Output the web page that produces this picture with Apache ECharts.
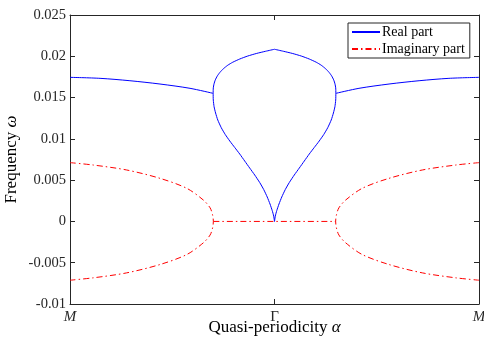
<!DOCTYPE html>
<html>
<head>
<meta charset="utf-8">
<script src="https://cdn.jsdelivr.net/npm/echarts@6/dist/echarts.min.js"></script>
<style>html,body{margin:0;padding:0;background:#fff}#c{width:484px;height:345px}</style>
</head>
<body>
<div id="c"></div>
<script>
// Tick labels
var xTickLabels = ['M', 'Γ', 'M'];
var yTickLabels = ['-0.01', '-0.005', '0', '0.005', '0.01', '0.015', '0.02', '0.025'];

// Real part, left outer segment (alpha from M to branch point)
var realLeft = [[0, 0.01745], [0.147, 0.01733], [0.293, 0.01704], [0.44, 0.01664], [0.587, 0.01612], [0.700, 0.01551]];
// Real part, right outer segment
var realRight = [[2, 0.01745], [1.853, 0.01733], [1.707, 0.01704], [1.56, 0.01664], [1.413, 0.01612], [1.300, 0.01551]];
// Real part, left lens half: from cusp at Γ (lower branch) through branch point to peak at Γ (upper branch)
var lensLeft = [[1.0, 0.0], [0.999, 0.00017], [0.9961, 0.00065], [0.9888, 0.00132], [0.978, 0.00211], [0.9644, 0.00296],
  [0.9473, 0.00386], [0.9277, 0.00471], [0.9033, 0.00562], [0.8789, 0.00646], [0.8545, 0.00731], [0.8301, 0.00816],
  [0.8057, 0.00895], [0.7813, 0.00974], [0.7593, 0.01052], [0.7397, 0.01135], [0.7227, 0.01228], [0.7119, 0.01313],
  [0.7046, 0.01389], [0.7007, 0.01470], [0.700, 0.01551], [0.7007, 0.01616], [0.7041, 0.01664], [0.7104, 0.01713],
  [0.7202, 0.01761], [0.7324, 0.01803], [0.7495, 0.01848], [0.7715, 0.01892], [0.7959, 0.01928], [0.8301, 0.01967],
  [0.8691, 0.02003], [0.9131, 0.02035], [0.957, 0.02061], [1.0, 0.02085]];
// Real part, right lens half
var lensRight = [[1.0, 0.0], [1.001, 0.00017], [1.0039, 0.00065], [1.0112, 0.00132], [1.022, 0.00211], [1.0356, 0.00296],
  [1.0527, 0.00386], [1.0723, 0.00471], [1.0967, 0.00562], [1.1211, 0.00646], [1.1455, 0.00731], [1.1699, 0.00816],
  [1.1943, 0.00895], [1.2187, 0.00974], [1.2407, 0.01052], [1.2603, 0.01135], [1.2773, 0.01228], [1.2881, 0.01313],
  [1.2954, 0.01389], [1.2993, 0.01470], [1.300, 0.01551], [1.2993, 0.01616], [1.2959, 0.01664], [1.2896, 0.01713],
  [1.2798, 0.01761], [1.2676, 0.01803], [1.2505, 0.01848], [1.2285, 0.01892], [1.2041, 0.01928], [1.1699, 0.01967],
  [1.1309, 0.02003], [1.0869, 0.02035], [1.043, 0.02061], [1.0, 0.02085]];
// Imaginary part, left loop (upper +, through branch point, lower -)
var imagLeft = [[0, 0.00712], [0.114, 0.00683], [0.277, 0.00623], [0.44, 0.00522], [0.571, 0.00401], [0.652, 0.00259],
  [0.685, 0.00165], [0.697, 0.0008], [0.701, 0.0], [0.697, -0.0008], [0.685, -0.00165], [0.652, -0.00259],
  [0.571, -0.00401], [0.44, -0.00522], [0.277, -0.00623], [0.114, -0.00683], [0, -0.00712]];
// Imaginary part, right loop
var imagRight = [[2, 0.00712], [1.886, 0.00683], [1.723, 0.00623], [1.56, 0.00522], [1.429, 0.00401], [1.348, 0.00259],
  [1.315, 0.00165], [1.303, 0.0008], [1.299, 0.0], [1.303, -0.0008], [1.315, -0.00165], [1.348, -0.00259],
  [1.429, -0.00401], [1.56, -0.00522], [1.723, -0.00623], [1.886, -0.00683], [2, -0.00712]];
// Imaginary part zero segment (both eigenvalues real)
var imagZero = [[0.701, 0], [1.0, 0], [1.299, 0]];

var FONT = '"Liberation Serif", "DejaVu Serif", serif';
var AX = '#262626';
var YMIN = -0.01, YMAX = 0.025, YINT = 0.005;
var dashDot = [6, 3, 1.5, 3];

function realSeries(data, smooth) {
  return { name: 'Real part', type: 'line', data: data, symbol: 'none', showSymbol: false, smooth: smooth,
    lineStyle: { color: '#0000ff', width: 1 }, itemStyle: { color: '#0000ff' }, animation: false, z: 3 };
}
function imagSeries(data, smooth) {
  return { name: 'Imaginary part', type: 'line', data: data, symbol: 'none', showSymbol: false, smooth: smooth,
    lineStyle: { color: '#ff0000', width: 1, type: dashDot }, itemStyle: { color: '#ff0000' }, animation: false, z: 2 };
}

var chart = echarts.init(document.getElementById('c'), null, { renderer: 'canvas' });
var option = {
  animation: false,
  backgroundColor: '#fff',
  grid: { left: 70, right: 5, top: 15, bottom: 41, containLabel: false, outerBoundsMode: 'none' },
  legend: {
    data: ['Real part', 'Imaginary part'],
    orient: 'vertical', left: 348, top: 23,
    itemWidth: 28, itemHeight: 8, itemGap: 3,
    padding: [2, 5, 2, 3],
    borderColor: AX, borderWidth: 1, backgroundColor: '#fff',
    itemStyle: { opacity: 0 },
    textStyle: { fontFamily: FONT, fontSize: 14, color: '#000', padding: [0, 0, 0, -3] }
  },
  xAxis: [{
    type: 'value', min: 0, max: 2, interval: 1, position: 'bottom',
    name: '{n|Quasi-periodicity }{g|α}', nameLocation: 'middle', nameGap: 15, nameMoveOverlap: false,
    nameTextStyle: { rich: {
      n: { fontFamily: FONT, fontSize: 17, color: '#000' },
      g: { fontFamily: FONT, fontSize: 17, color: '#000', fontStyle: 'italic' } } },
    axisLine: { show: true, onZero: false, lineStyle: { color: AX, width: 1 } },
    axisTick: { show: true, inside: true, length: 5, lineStyle: { color: AX } },
    axisLabel: { margin: 6, fontFamily: FONT, fontSize: 14.5, color: '#262626',
      formatter: function (v) { var l = xTickLabels[Math.round(v)]; return l === 'Γ' ? '{r|' + l + '}' : '{i|' + l + '}'; },
      rich: { i: { fontFamily: FONT, fontSize: 15, fontStyle: 'italic', color: '#262626' },
              r: { fontFamily: FONT, fontSize: 15, color: '#262626' } } },
    splitLine: { show: false }
  }, {
    type: 'value', min: 0, max: 2, interval: 1, position: 'top',
    axisLine: { show: true, onZero: false, lineStyle: { color: AX, width: 1 } },
    axisTick: { show: true, inside: true, length: 5, lineStyle: { color: AX } },
    axisLabel: { show: false }, splitLine: { show: false }
  }],
  yAxis: [{
    type: 'value', min: YMIN, max: YMAX, interval: YINT, position: 'left',
    name: '{n|Frequency }{g|ω}', nameLocation: 'middle', nameGap: 50, nameRotate: 90, nameMoveOverlap: false,
    nameTextStyle: { rich: {
      n: { fontFamily: FONT, fontSize: 17, color: '#000' },
      g: { fontFamily: FONT, fontSize: 17, color: '#000', fontStyle: 'italic' } } },
    axisLine: { show: true, onZero: false, lineStyle: { color: AX, width: 1 } },
    axisTick: { show: true, inside: true, length: 5, lineStyle: { color: AX } },
    axisLabel: { margin: 4, fontFamily: FONT, fontSize: 14.5, color: '#262626',
      formatter: function (v) { return yTickLabels[Math.round((v - YMIN) / YINT)]; } },
    splitLine: { show: false }
  }, {
    type: 'value', min: YMIN, max: YMAX, interval: YINT, position: 'right',
    axisLine: { show: true, onZero: false, lineStyle: { color: AX, width: 1 } },
    axisTick: { show: true, inside: true, length: 5, lineStyle: { color: AX } },
    axisLabel: { show: false }, splitLine: { show: false }
  }],
  series: [
    realSeries(realLeft, 0.3),
    imagSeries(imagLeft, 0.3),
    realSeries(realRight, 0.3),
    realSeries(lensLeft, 0.2),
    realSeries(lensRight, 0.2),
    imagSeries(imagRight, 0.3),
    imagSeries(imagZero, false)
  ]
};
chart.setOption(option);
</script>
</body>
</html>
